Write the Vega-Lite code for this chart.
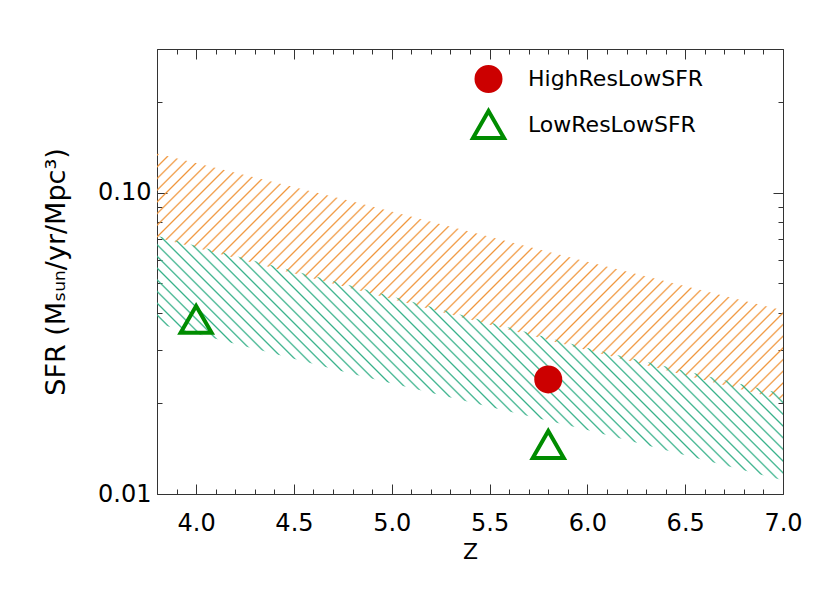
{
"$schema": "https://vega.github.io/schema/vega-lite/v6.json",
"width": 626, "height": 445,
"autosize": {"type": "none"},
"padding": {"left": 157, "top": 49, "right": 47, "bottom": 99},
"background": "white",
"config": {
 "view": {"stroke": null},
 "font": "DejaVu Sans",
 "axis": {"domainColor": "#333", "tickColor": "#333", "tickWidth": 1, "labelFont": "DejaVu Sans", "labelFontSize": 24, "labelColor": "black", "titleFont": "DejaVu Sans", "titleFontSize": 22, "titleFontWeight": "normal", "titleColor": "black", "grid": false, "labelFlush": false, "labelOverlap": false}
},
"datasets": {
 "bands": [
  {"band": "orange", "z": 3.8, "lo": 0.071, "hi": 0.135},
  {"band": "orange", "z": 4.8, "lo": 0.048, "hi": 0.0935},
  {"band": "orange", "z": 6.0, "lo": 0.030, "hi": 0.059},
  {"band": "orange", "z": 7.0, "lo": 0.0205, "hi": 0.0407},
  {"band": "green", "z": 3.8, "lo": 0.0368, "hi": 0.072},
  {"band": "green", "z": 4.8, "lo": 0.025, "hi": 0.049},
  {"band": "green", "z": 6.0, "lo": 0.0163, "hi": 0.0305},
  {"band": "green", "z": 7.0, "lo": 0.0111, "hi": 0.0215}
 ],
 "points": [
  {"series": "HighResLowSFR", "z": 5.8, "sfr": 0.024},
  {"series": "LowResLowSFR", "z": 4.0, "sfr": 0.038},
  {"series": "LowResLowSFR", "z": 5.8, "sfr": 0.0146}
 ]
},
"layer": [
 {
  "data": {"name": "bands"},
  "transform": [{"filter": "datum.band == 'orange'"}],
  "mark": {"type": "area", "stroke": null, "fill": {"gradient": "linear", "x1": 0, "y1": 0, "x2": 1.6173, "y2": 0.6381, "stops": [
{"offset":0,"color":"rgba(240,150,60,0)"},{"offset":0.0015,"color":"#f0963c"},{"offset":0.003,"color":"rgba(240,150,60,0)"},
{"offset":0.01,"color":"rgba(240,150,60,0)"},{"offset":0.0115,"color":"#f0963c"},{"offset":0.013,"color":"rgba(240,150,60,0)"},
{"offset":0.02,"color":"rgba(240,150,60,0)"},{"offset":0.0215,"color":"#f0963c"},{"offset":0.023,"color":"rgba(240,150,60,0)"},
{"offset":0.03,"color":"rgba(240,150,60,0)"},{"offset":0.0315,"color":"#f0963c"},{"offset":0.033,"color":"rgba(240,150,60,0)"},
{"offset":0.04,"color":"rgba(240,150,60,0)"},{"offset":0.0415,"color":"#f0963c"},{"offset":0.043,"color":"rgba(240,150,60,0)"},
{"offset":0.05,"color":"rgba(240,150,60,0)"},{"offset":0.0515,"color":"#f0963c"},{"offset":0.053,"color":"rgba(240,150,60,0)"},
{"offset":0.06,"color":"rgba(240,150,60,0)"},{"offset":0.0615,"color":"#f0963c"},{"offset":0.063,"color":"rgba(240,150,60,0)"},
{"offset":0.07,"color":"rgba(240,150,60,0)"},{"offset":0.0715,"color":"#f0963c"},{"offset":0.073,"color":"rgba(240,150,60,0)"},
{"offset":0.08,"color":"rgba(240,150,60,0)"},{"offset":0.0815,"color":"#f0963c"},{"offset":0.083,"color":"rgba(240,150,60,0)"},
{"offset":0.09,"color":"rgba(240,150,60,0)"},{"offset":0.0915,"color":"#f0963c"},{"offset":0.093,"color":"rgba(240,150,60,0)"},
{"offset":0.10,"color":"rgba(240,150,60,0)"},{"offset":0.1015,"color":"#f0963c"},{"offset":0.103,"color":"rgba(240,150,60,0)"},
{"offset":0.11,"color":"rgba(240,150,60,0)"},{"offset":0.1115,"color":"#f0963c"},{"offset":0.113,"color":"rgba(240,150,60,0)"},
{"offset":0.12,"color":"rgba(240,150,60,0)"},{"offset":0.1215,"color":"#f0963c"},{"offset":0.123,"color":"rgba(240,150,60,0)"},
{"offset":0.13,"color":"rgba(240,150,60,0)"},{"offset":0.1315,"color":"#f0963c"},{"offset":0.133,"color":"rgba(240,150,60,0)"},
{"offset":0.14,"color":"rgba(240,150,60,0)"},{"offset":0.1415,"color":"#f0963c"},{"offset":0.143,"color":"rgba(240,150,60,0)"},
{"offset":0.15,"color":"rgba(240,150,60,0)"},{"offset":0.1515,"color":"#f0963c"},{"offset":0.153,"color":"rgba(240,150,60,0)"},
{"offset":0.16,"color":"rgba(240,150,60,0)"},{"offset":0.1615,"color":"#f0963c"},{"offset":0.163,"color":"rgba(240,150,60,0)"},
{"offset":0.17,"color":"rgba(240,150,60,0)"},{"offset":0.1715,"color":"#f0963c"},{"offset":0.173,"color":"rgba(240,150,60,0)"},
{"offset":0.18,"color":"rgba(240,150,60,0)"},{"offset":0.1815,"color":"#f0963c"},{"offset":0.183,"color":"rgba(240,150,60,0)"},
{"offset":0.19,"color":"rgba(240,150,60,0)"},{"offset":0.1915,"color":"#f0963c"},{"offset":0.193,"color":"rgba(240,150,60,0)"},
{"offset":0.20,"color":"rgba(240,150,60,0)"},{"offset":0.2015,"color":"#f0963c"},{"offset":0.203,"color":"rgba(240,150,60,0)"},
{"offset":0.21,"color":"rgba(240,150,60,0)"},{"offset":0.2115,"color":"#f0963c"},{"offset":0.213,"color":"rgba(240,150,60,0)"},
{"offset":0.22,"color":"rgba(240,150,60,0)"},{"offset":0.2215,"color":"#f0963c"},{"offset":0.223,"color":"rgba(240,150,60,0)"},
{"offset":0.23,"color":"rgba(240,150,60,0)"},{"offset":0.2315,"color":"#f0963c"},{"offset":0.233,"color":"rgba(240,150,60,0)"},
{"offset":0.24,"color":"rgba(240,150,60,0)"},{"offset":0.2415,"color":"#f0963c"},{"offset":0.243,"color":"rgba(240,150,60,0)"},
{"offset":0.25,"color":"rgba(240,150,60,0)"},{"offset":0.2515,"color":"#f0963c"},{"offset":0.253,"color":"rgba(240,150,60,0)"},
{"offset":0.26,"color":"rgba(240,150,60,0)"},{"offset":0.2615,"color":"#f0963c"},{"offset":0.263,"color":"rgba(240,150,60,0)"},
{"offset":0.27,"color":"rgba(240,150,60,0)"},{"offset":0.2715,"color":"#f0963c"},{"offset":0.273,"color":"rgba(240,150,60,0)"},
{"offset":0.28,"color":"rgba(240,150,60,0)"},{"offset":0.2815,"color":"#f0963c"},{"offset":0.283,"color":"rgba(240,150,60,0)"},
{"offset":0.29,"color":"rgba(240,150,60,0)"},{"offset":0.2915,"color":"#f0963c"},{"offset":0.293,"color":"rgba(240,150,60,0)"},
{"offset":0.30,"color":"rgba(240,150,60,0)"},{"offset":0.3015,"color":"#f0963c"},{"offset":0.303,"color":"rgba(240,150,60,0)"},
{"offset":0.31,"color":"rgba(240,150,60,0)"},{"offset":0.3115,"color":"#f0963c"},{"offset":0.313,"color":"rgba(240,150,60,0)"},
{"offset":0.32,"color":"rgba(240,150,60,0)"},{"offset":0.3215,"color":"#f0963c"},{"offset":0.323,"color":"rgba(240,150,60,0)"},
{"offset":0.33,"color":"rgba(240,150,60,0)"},{"offset":0.3315,"color":"#f0963c"},{"offset":0.333,"color":"rgba(240,150,60,0)"},
{"offset":0.34,"color":"rgba(240,150,60,0)"},{"offset":0.3415,"color":"#f0963c"},{"offset":0.343,"color":"rgba(240,150,60,0)"},
{"offset":0.35,"color":"rgba(240,150,60,0)"},{"offset":0.3515,"color":"#f0963c"},{"offset":0.353,"color":"rgba(240,150,60,0)"},
{"offset":0.36,"color":"rgba(240,150,60,0)"},{"offset":0.3615,"color":"#f0963c"},{"offset":0.363,"color":"rgba(240,150,60,0)"},
{"offset":0.37,"color":"rgba(240,150,60,0)"},{"offset":0.3715,"color":"#f0963c"},{"offset":0.373,"color":"rgba(240,150,60,0)"},
{"offset":0.38,"color":"rgba(240,150,60,0)"},{"offset":0.3815,"color":"#f0963c"},{"offset":0.383,"color":"rgba(240,150,60,0)"},
{"offset":0.39,"color":"rgba(240,150,60,0)"},{"offset":0.3915,"color":"#f0963c"},{"offset":0.393,"color":"rgba(240,150,60,0)"},
{"offset":0.40,"color":"rgba(240,150,60,0)"},{"offset":0.4015,"color":"#f0963c"},{"offset":0.403,"color":"rgba(240,150,60,0)"},
{"offset":0.41,"color":"rgba(240,150,60,0)"},{"offset":0.4115,"color":"#f0963c"},{"offset":0.413,"color":"rgba(240,150,60,0)"},
{"offset":0.42,"color":"rgba(240,150,60,0)"},{"offset":0.4215,"color":"#f0963c"},{"offset":0.423,"color":"rgba(240,150,60,0)"},
{"offset":0.43,"color":"rgba(240,150,60,0)"},{"offset":0.4315,"color":"#f0963c"},{"offset":0.433,"color":"rgba(240,150,60,0)"},
{"offset":0.44,"color":"rgba(240,150,60,0)"},{"offset":0.4415,"color":"#f0963c"},{"offset":0.443,"color":"rgba(240,150,60,0)"},
{"offset":0.45,"color":"rgba(240,150,60,0)"},{"offset":0.4515,"color":"#f0963c"},{"offset":0.453,"color":"rgba(240,150,60,0)"},
{"offset":0.46,"color":"rgba(240,150,60,0)"},{"offset":0.4615,"color":"#f0963c"},{"offset":0.463,"color":"rgba(240,150,60,0)"},
{"offset":0.47,"color":"rgba(240,150,60,0)"},{"offset":0.4715,"color":"#f0963c"},{"offset":0.473,"color":"rgba(240,150,60,0)"},
{"offset":0.48,"color":"rgba(240,150,60,0)"},{"offset":0.4815,"color":"#f0963c"},{"offset":0.483,"color":"rgba(240,150,60,0)"},
{"offset":0.49,"color":"rgba(240,150,60,0)"},{"offset":0.4915,"color":"#f0963c"},{"offset":0.493,"color":"rgba(240,150,60,0)"},
{"offset":0.50,"color":"rgba(240,150,60,0)"},{"offset":0.5015,"color":"#f0963c"},{"offset":0.503,"color":"rgba(240,150,60,0)"},
{"offset":0.51,"color":"rgba(240,150,60,0)"},{"offset":0.5115,"color":"#f0963c"},{"offset":0.513,"color":"rgba(240,150,60,0)"},
{"offset":0.52,"color":"rgba(240,150,60,0)"},{"offset":0.5215,"color":"#f0963c"},{"offset":0.523,"color":"rgba(240,150,60,0)"},
{"offset":0.53,"color":"rgba(240,150,60,0)"},{"offset":0.5315,"color":"#f0963c"},{"offset":0.533,"color":"rgba(240,150,60,0)"},
{"offset":0.54,"color":"rgba(240,150,60,0)"},{"offset":0.5415,"color":"#f0963c"},{"offset":0.543,"color":"rgba(240,150,60,0)"},
{"offset":0.55,"color":"rgba(240,150,60,0)"},{"offset":0.5515,"color":"#f0963c"},{"offset":0.553,"color":"rgba(240,150,60,0)"},
{"offset":0.56,"color":"rgba(240,150,60,0)"},{"offset":0.5615,"color":"#f0963c"},{"offset":0.563,"color":"rgba(240,150,60,0)"},
{"offset":0.57,"color":"rgba(240,150,60,0)"},{"offset":0.5715,"color":"#f0963c"},{"offset":0.573,"color":"rgba(240,150,60,0)"},
{"offset":0.58,"color":"rgba(240,150,60,0)"},{"offset":0.5815,"color":"#f0963c"},{"offset":0.583,"color":"rgba(240,150,60,0)"},
{"offset":0.59,"color":"rgba(240,150,60,0)"},{"offset":0.5915,"color":"#f0963c"},{"offset":0.593,"color":"rgba(240,150,60,0)"},
{"offset":0.60,"color":"rgba(240,150,60,0)"},{"offset":0.6015,"color":"#f0963c"},{"offset":0.603,"color":"rgba(240,150,60,0)"},
{"offset":0.61,"color":"rgba(240,150,60,0)"},{"offset":0.6115,"color":"#f0963c"},{"offset":0.613,"color":"rgba(240,150,60,0)"},
{"offset":0.62,"color":"rgba(240,150,60,0)"},{"offset":0.6215,"color":"#f0963c"},{"offset":0.623,"color":"rgba(240,150,60,0)"},
{"offset":0.63,"color":"rgba(240,150,60,0)"},{"offset":0.6315,"color":"#f0963c"},{"offset":0.633,"color":"rgba(240,150,60,0)"},
{"offset":0.64,"color":"rgba(240,150,60,0)"},{"offset":0.6415,"color":"#f0963c"},{"offset":0.643,"color":"rgba(240,150,60,0)"},
{"offset":0.65,"color":"rgba(240,150,60,0)"},{"offset":0.6515,"color":"#f0963c"},{"offset":0.653,"color":"rgba(240,150,60,0)"},
{"offset":0.66,"color":"rgba(240,150,60,0)"},{"offset":0.6615,"color":"#f0963c"},{"offset":0.663,"color":"rgba(240,150,60,0)"},
{"offset":0.67,"color":"rgba(240,150,60,0)"},{"offset":0.6715,"color":"#f0963c"},{"offset":0.673,"color":"rgba(240,150,60,0)"},
{"offset":0.68,"color":"rgba(240,150,60,0)"},{"offset":0.6815,"color":"#f0963c"},{"offset":0.683,"color":"rgba(240,150,60,0)"},
{"offset":0.69,"color":"rgba(240,150,60,0)"},{"offset":0.6915,"color":"#f0963c"},{"offset":0.693,"color":"rgba(240,150,60,0)"},
{"offset":0.70,"color":"rgba(240,150,60,0)"},{"offset":0.7015,"color":"#f0963c"},{"offset":0.703,"color":"rgba(240,150,60,0)"},
{"offset":0.71,"color":"rgba(240,150,60,0)"},{"offset":0.7115,"color":"#f0963c"},{"offset":0.713,"color":"rgba(240,150,60,0)"},
{"offset":0.72,"color":"rgba(240,150,60,0)"},{"offset":0.7215,"color":"#f0963c"},{"offset":0.723,"color":"rgba(240,150,60,0)"},
{"offset":0.73,"color":"rgba(240,150,60,0)"},{"offset":0.7315,"color":"#f0963c"},{"offset":0.733,"color":"rgba(240,150,60,0)"},
{"offset":0.74,"color":"rgba(240,150,60,0)"},{"offset":0.7415,"color":"#f0963c"},{"offset":0.743,"color":"rgba(240,150,60,0)"}
  ]}},
  "encoding": {
   "x": {"field": "z", "type": "quantitative", "scale": {"domain": [3.8, 7.0], "nice": false, "zero": false},
    "axis": {"orient": "bottom", "title": "Z", "values": [3.8,3.9,4,4.1,4.2,4.3,4.4,4.5,4.6,4.7,4.8,4.9,5,5.1,5.2,5.3,5.4,5.5,5.6,5.7,5.8,5.9,6,6.1,6.2,6.3,6.4,6.5,6.6,6.7,6.8,6.9,7],
     "labelExpr": "abs(datum.value*2 - round(datum.value*2)) < 0.01 ? format(datum.value, '.1f') : ''",
     "tickSize": {"condition": {"test": "abs(datum.value*2 - round(datum.value*2)) < 0.01", "value": -10}, "value": -5},
     "labelPadding": 27, "titlePadding": 1}},
   "y": {"field": "hi", "type": "quantitative", "scale": {"type": "log", "domain": [0.01, 0.3], "nice": false},
    "axis": {"orient": "left", "title": "SFR (Mₛᵤₙ/yr/Mpc³)", "titleFontSize": 27, "values": [0.01,0.02,0.03,0.04,0.05,0.06,0.07,0.08,0.09,0.1,0.2,0.3],
     "labelExpr": "datum.value == 0.01 ? '0.01' : (datum.value == 0.1 ? '0.10' : '')",
     "tickSize": {"condition": {"test": "datum.value == 0.01 || datum.value == 0.1", "value": -10}, "value": -5},
     "labelPadding": 16, "titlePadding": 27}},
   "y2": {"field": "lo"}
  }
 },
 {
  "data": {"name": "bands"},
  "transform": [{"filter": "datum.band == 'green'"}],
  "mark": {"type": "area", "stroke": null, "fill": {"gradient": "linear", "x1": 0, "y1": 1, "x2": 1.6215, "y2": 0.3664, "stops": [
{"offset":0,"color":"rgba(52,176,136,0)"},{"offset":0.0015,"color":"#34b088"},{"offset":0.003,"color":"rgba(52,176,136,0)"},
{"offset":0.01,"color":"rgba(52,176,136,0)"},{"offset":0.0115,"color":"#34b088"},{"offset":0.013,"color":"rgba(52,176,136,0)"},
{"offset":0.02,"color":"rgba(52,176,136,0)"},{"offset":0.0215,"color":"#34b088"},{"offset":0.023,"color":"rgba(52,176,136,0)"},
{"offset":0.03,"color":"rgba(52,176,136,0)"},{"offset":0.0315,"color":"#34b088"},{"offset":0.033,"color":"rgba(52,176,136,0)"},
{"offset":0.04,"color":"rgba(52,176,136,0)"},{"offset":0.0415,"color":"#34b088"},{"offset":0.043,"color":"rgba(52,176,136,0)"},
{"offset":0.05,"color":"rgba(52,176,136,0)"},{"offset":0.0515,"color":"#34b088"},{"offset":0.053,"color":"rgba(52,176,136,0)"},
{"offset":0.06,"color":"rgba(52,176,136,0)"},{"offset":0.0615,"color":"#34b088"},{"offset":0.063,"color":"rgba(52,176,136,0)"},
{"offset":0.07,"color":"rgba(52,176,136,0)"},{"offset":0.0715,"color":"#34b088"},{"offset":0.073,"color":"rgba(52,176,136,0)"},
{"offset":0.08,"color":"rgba(52,176,136,0)"},{"offset":0.0815,"color":"#34b088"},{"offset":0.083,"color":"rgba(52,176,136,0)"},
{"offset":0.09,"color":"rgba(52,176,136,0)"},{"offset":0.0915,"color":"#34b088"},{"offset":0.093,"color":"rgba(52,176,136,0)"},
{"offset":0.10,"color":"rgba(52,176,136,0)"},{"offset":0.1015,"color":"#34b088"},{"offset":0.103,"color":"rgba(52,176,136,0)"},
{"offset":0.11,"color":"rgba(52,176,136,0)"},{"offset":0.1115,"color":"#34b088"},{"offset":0.113,"color":"rgba(52,176,136,0)"},
{"offset":0.12,"color":"rgba(52,176,136,0)"},{"offset":0.1215,"color":"#34b088"},{"offset":0.123,"color":"rgba(52,176,136,0)"},
{"offset":0.13,"color":"rgba(52,176,136,0)"},{"offset":0.1315,"color":"#34b088"},{"offset":0.133,"color":"rgba(52,176,136,0)"},
{"offset":0.14,"color":"rgba(52,176,136,0)"},{"offset":0.1415,"color":"#34b088"},{"offset":0.143,"color":"rgba(52,176,136,0)"},
{"offset":0.15,"color":"rgba(52,176,136,0)"},{"offset":0.1515,"color":"#34b088"},{"offset":0.153,"color":"rgba(52,176,136,0)"},
{"offset":0.16,"color":"rgba(52,176,136,0)"},{"offset":0.1615,"color":"#34b088"},{"offset":0.163,"color":"rgba(52,176,136,0)"},
{"offset":0.17,"color":"rgba(52,176,136,0)"},{"offset":0.1715,"color":"#34b088"},{"offset":0.173,"color":"rgba(52,176,136,0)"},
{"offset":0.18,"color":"rgba(52,176,136,0)"},{"offset":0.1815,"color":"#34b088"},{"offset":0.183,"color":"rgba(52,176,136,0)"},
{"offset":0.19,"color":"rgba(52,176,136,0)"},{"offset":0.1915,"color":"#34b088"},{"offset":0.193,"color":"rgba(52,176,136,0)"},
{"offset":0.20,"color":"rgba(52,176,136,0)"},{"offset":0.2015,"color":"#34b088"},{"offset":0.203,"color":"rgba(52,176,136,0)"},
{"offset":0.21,"color":"rgba(52,176,136,0)"},{"offset":0.2115,"color":"#34b088"},{"offset":0.213,"color":"rgba(52,176,136,0)"},
{"offset":0.22,"color":"rgba(52,176,136,0)"},{"offset":0.2215,"color":"#34b088"},{"offset":0.223,"color":"rgba(52,176,136,0)"},
{"offset":0.23,"color":"rgba(52,176,136,0)"},{"offset":0.2315,"color":"#34b088"},{"offset":0.233,"color":"rgba(52,176,136,0)"},
{"offset":0.24,"color":"rgba(52,176,136,0)"},{"offset":0.2415,"color":"#34b088"},{"offset":0.243,"color":"rgba(52,176,136,0)"},
{"offset":0.25,"color":"rgba(52,176,136,0)"},{"offset":0.2515,"color":"#34b088"},{"offset":0.253,"color":"rgba(52,176,136,0)"},
{"offset":0.26,"color":"rgba(52,176,136,0)"},{"offset":0.2615,"color":"#34b088"},{"offset":0.263,"color":"rgba(52,176,136,0)"},
{"offset":0.27,"color":"rgba(52,176,136,0)"},{"offset":0.2715,"color":"#34b088"},{"offset":0.273,"color":"rgba(52,176,136,0)"},
{"offset":0.28,"color":"rgba(52,176,136,0)"},{"offset":0.2815,"color":"#34b088"},{"offset":0.283,"color":"rgba(52,176,136,0)"},
{"offset":0.29,"color":"rgba(52,176,136,0)"},{"offset":0.2915,"color":"#34b088"},{"offset":0.293,"color":"rgba(52,176,136,0)"},
{"offset":0.30,"color":"rgba(52,176,136,0)"},{"offset":0.3015,"color":"#34b088"},{"offset":0.303,"color":"rgba(52,176,136,0)"},
{"offset":0.31,"color":"rgba(52,176,136,0)"},{"offset":0.3115,"color":"#34b088"},{"offset":0.313,"color":"rgba(52,176,136,0)"},
{"offset":0.32,"color":"rgba(52,176,136,0)"},{"offset":0.3215,"color":"#34b088"},{"offset":0.323,"color":"rgba(52,176,136,0)"},
{"offset":0.33,"color":"rgba(52,176,136,0)"},{"offset":0.3315,"color":"#34b088"},{"offset":0.333,"color":"rgba(52,176,136,0)"},
{"offset":0.34,"color":"rgba(52,176,136,0)"},{"offset":0.3415,"color":"#34b088"},{"offset":0.343,"color":"rgba(52,176,136,0)"},
{"offset":0.35,"color":"rgba(52,176,136,0)"},{"offset":0.3515,"color":"#34b088"},{"offset":0.353,"color":"rgba(52,176,136,0)"},
{"offset":0.36,"color":"rgba(52,176,136,0)"},{"offset":0.3615,"color":"#34b088"},{"offset":0.363,"color":"rgba(52,176,136,0)"},
{"offset":0.37,"color":"rgba(52,176,136,0)"},{"offset":0.3715,"color":"#34b088"},{"offset":0.373,"color":"rgba(52,176,136,0)"},
{"offset":0.38,"color":"rgba(52,176,136,0)"},{"offset":0.3815,"color":"#34b088"},{"offset":0.383,"color":"rgba(52,176,136,0)"},
{"offset":0.39,"color":"rgba(52,176,136,0)"},{"offset":0.3915,"color":"#34b088"},{"offset":0.393,"color":"rgba(52,176,136,0)"},
{"offset":0.40,"color":"rgba(52,176,136,0)"},{"offset":0.4015,"color":"#34b088"},{"offset":0.403,"color":"rgba(52,176,136,0)"},
{"offset":0.41,"color":"rgba(52,176,136,0)"},{"offset":0.4115,"color":"#34b088"},{"offset":0.413,"color":"rgba(52,176,136,0)"},
{"offset":0.42,"color":"rgba(52,176,136,0)"},{"offset":0.4215,"color":"#34b088"},{"offset":0.423,"color":"rgba(52,176,136,0)"},
{"offset":0.43,"color":"rgba(52,176,136,0)"},{"offset":0.4315,"color":"#34b088"},{"offset":0.433,"color":"rgba(52,176,136,0)"},
{"offset":0.44,"color":"rgba(52,176,136,0)"},{"offset":0.4415,"color":"#34b088"},{"offset":0.443,"color":"rgba(52,176,136,0)"},
{"offset":0.45,"color":"rgba(52,176,136,0)"},{"offset":0.4515,"color":"#34b088"},{"offset":0.453,"color":"rgba(52,176,136,0)"},
{"offset":0.46,"color":"rgba(52,176,136,0)"},{"offset":0.4615,"color":"#34b088"},{"offset":0.463,"color":"rgba(52,176,136,0)"},
{"offset":0.47,"color":"rgba(52,176,136,0)"},{"offset":0.4715,"color":"#34b088"},{"offset":0.473,"color":"rgba(52,176,136,0)"},
{"offset":0.48,"color":"rgba(52,176,136,0)"},{"offset":0.4815,"color":"#34b088"},{"offset":0.483,"color":"rgba(52,176,136,0)"},
{"offset":0.49,"color":"rgba(52,176,136,0)"},{"offset":0.4915,"color":"#34b088"},{"offset":0.493,"color":"rgba(52,176,136,0)"},
{"offset":0.50,"color":"rgba(52,176,136,0)"},{"offset":0.5015,"color":"#34b088"},{"offset":0.503,"color":"rgba(52,176,136,0)"},
{"offset":0.51,"color":"rgba(52,176,136,0)"},{"offset":0.5115,"color":"#34b088"},{"offset":0.513,"color":"rgba(52,176,136,0)"},
{"offset":0.52,"color":"rgba(52,176,136,0)"},{"offset":0.5215,"color":"#34b088"},{"offset":0.523,"color":"rgba(52,176,136,0)"},
{"offset":0.53,"color":"rgba(52,176,136,0)"},{"offset":0.5315,"color":"#34b088"},{"offset":0.533,"color":"rgba(52,176,136,0)"},
{"offset":0.54,"color":"rgba(52,176,136,0)"},{"offset":0.5415,"color":"#34b088"},{"offset":0.543,"color":"rgba(52,176,136,0)"},
{"offset":0.55,"color":"rgba(52,176,136,0)"},{"offset":0.5515,"color":"#34b088"},{"offset":0.553,"color":"rgba(52,176,136,0)"},
{"offset":0.56,"color":"rgba(52,176,136,0)"},{"offset":0.5615,"color":"#34b088"},{"offset":0.563,"color":"rgba(52,176,136,0)"},
{"offset":0.57,"color":"rgba(52,176,136,0)"},{"offset":0.5715,"color":"#34b088"},{"offset":0.573,"color":"rgba(52,176,136,0)"},
{"offset":0.58,"color":"rgba(52,176,136,0)"},{"offset":0.5815,"color":"#34b088"},{"offset":0.583,"color":"rgba(52,176,136,0)"},
{"offset":0.59,"color":"rgba(52,176,136,0)"},{"offset":0.5915,"color":"#34b088"},{"offset":0.593,"color":"rgba(52,176,136,0)"},
{"offset":0.60,"color":"rgba(52,176,136,0)"},{"offset":0.6015,"color":"#34b088"},{"offset":0.603,"color":"rgba(52,176,136,0)"},
{"offset":0.61,"color":"rgba(52,176,136,0)"},{"offset":0.6115,"color":"#34b088"},{"offset":0.613,"color":"rgba(52,176,136,0)"},
{"offset":0.62,"color":"rgba(52,176,136,0)"},{"offset":0.6215,"color":"#34b088"},{"offset":0.623,"color":"rgba(52,176,136,0)"},
{"offset":0.63,"color":"rgba(52,176,136,0)"},{"offset":0.6315,"color":"#34b088"},{"offset":0.633,"color":"rgba(52,176,136,0)"},
{"offset":0.64,"color":"rgba(52,176,136,0)"},{"offset":0.6415,"color":"#34b088"},{"offset":0.643,"color":"rgba(52,176,136,0)"},
{"offset":0.65,"color":"rgba(52,176,136,0)"},{"offset":0.6515,"color":"#34b088"},{"offset":0.653,"color":"rgba(52,176,136,0)"},
{"offset":0.66,"color":"rgba(52,176,136,0)"},{"offset":0.6615,"color":"#34b088"},{"offset":0.663,"color":"rgba(52,176,136,0)"},
{"offset":0.67,"color":"rgba(52,176,136,0)"},{"offset":0.6715,"color":"#34b088"},{"offset":0.673,"color":"rgba(52,176,136,0)"},
{"offset":0.68,"color":"rgba(52,176,136,0)"},{"offset":0.6815,"color":"#34b088"},{"offset":0.683,"color":"rgba(52,176,136,0)"},
{"offset":0.69,"color":"rgba(52,176,136,0)"},{"offset":0.6915,"color":"#34b088"},{"offset":0.693,"color":"rgba(52,176,136,0)"},
{"offset":0.70,"color":"rgba(52,176,136,0)"},{"offset":0.7015,"color":"#34b088"},{"offset":0.703,"color":"rgba(52,176,136,0)"},
{"offset":0.71,"color":"rgba(52,176,136,0)"},{"offset":0.7115,"color":"#34b088"},{"offset":0.713,"color":"rgba(52,176,136,0)"},
{"offset":0.72,"color":"rgba(52,176,136,0)"},{"offset":0.7215,"color":"#34b088"},{"offset":0.723,"color":"rgba(52,176,136,0)"},
{"offset":0.73,"color":"rgba(52,176,136,0)"},{"offset":0.7315,"color":"#34b088"},{"offset":0.733,"color":"rgba(52,176,136,0)"},
{"offset":0.74,"color":"rgba(52,176,136,0)"},{"offset":0.7415,"color":"#34b088"},{"offset":0.743,"color":"rgba(52,176,136,0)"}
  ]}},
  "encoding": {
   "x": {"field": "z", "type": "quantitative",
    "axis": {"orient": "top", "title": null, "labels": false, "values": [3.8,3.9,4,4.1,4.2,4.3,4.4,4.5,4.6,4.7,4.8,4.9,5,5.1,5.2,5.3,5.4,5.5,5.6,5.7,5.8,5.9,6,6.1,6.2,6.3,6.4,6.5,6.6,6.7,6.8,6.9,7],
     "tickSize": {"condition": {"test": "abs(datum.value*2 - round(datum.value*2)) < 0.01", "value": -10}, "value": -5}}},
   "y": {"field": "hi", "type": "quantitative",
    "axis": {"orient": "right", "title": null, "labels": false, "values": [0.01,0.02,0.03,0.04,0.05,0.06,0.07,0.08,0.09,0.1,0.2,0.3],
     "tickSize": {"condition": {"test": "datum.value == 0.01 || datum.value == 0.1", "value": -10}, "value": -5}}},
   "y2": {"field": "lo"}
  }
 },
 {
  "data": {"name": "points"},
  "mark": {"type": "point", "filled": false, "strokeWidth": 4, "opacity": 1},
  "encoding": {
   "x": {"field": "z", "type": "quantitative", "axis": null},
   "y": {"field": "sfr", "type": "quantitative", "axis": null},
   "shape": {"field": "series", "type": "nominal", "scale": {"domain": ["HighResLowSFR", "LowResLowSFR"], "range": ["circle", "triangle-up"]},
    "legend": {"orient": "none", "legendX": 314, "legendY": 16, "title": null, "labelFontSize": 22, "labelFont": "DejaVu Sans", "labelLimit": 0, "labelOffset": 22, "rowPadding": 4, "symbolStrokeWidth": 4,
     "encode": {"labels": {"update": {"fill": {"signal": "datum.value == 'HighResLowSFR' ? '#cc0000' : '#008c00'"}}}}}},
   "color": {"field": "series", "type": "nominal", "scale": {"domain": ["HighResLowSFR", "LowResLowSFR"], "range": ["#cc0000", "#008c00"]}},
   "fill": {"field": "series", "type": "nominal", "scale": {"domain": ["HighResLowSFR", "LowResLowSFR"], "range": ["#cc0000", "rgba(0,0,0,0)"]}},
   "size": {"field": "series", "type": "nominal", "scale": {"domain": ["HighResLowSFR", "LowResLowSFR"], "range": [576, 960]}}
  }
 }
],
"resolve": {"axis": {"x": "independent", "y": "independent"}}
}
